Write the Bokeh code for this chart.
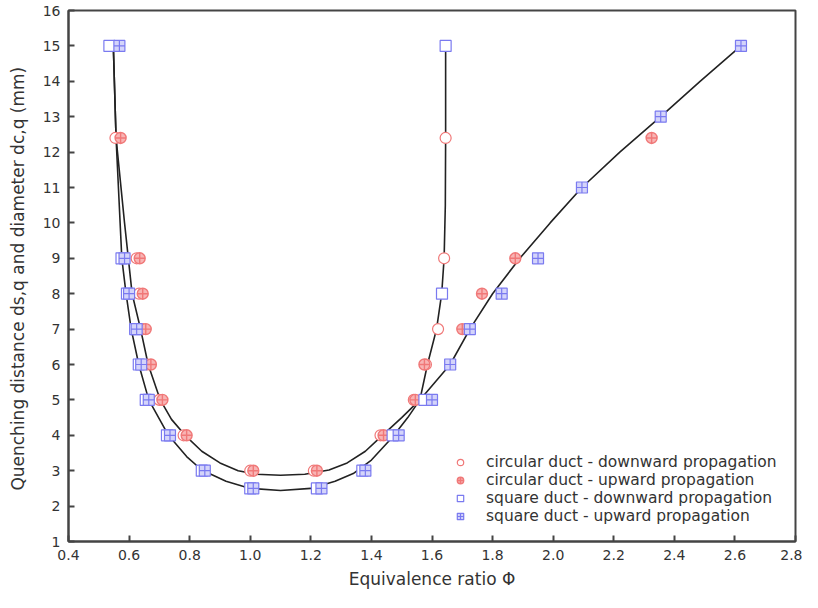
from bokeh.plotting import figure
from bokeh.models import FixedTicker, NumeralTickFormatter, Legend, LegendItem
from bokeh.embed import file_html
from bokeh.resources import INLINE

# ---------------- data ----------------
x_ticks = [0.4, 0.6, 0.8, 1.0, 1.2, 1.4, 1.6, 1.8, 2.0, 2.2, 2.4, 2.6, 2.8]
y_ticks = list(range(1, 17))

phi_circ_down = [0.555, 0.625, 0.633, 0.645, 0.66, 0.70, 0.78, 1.00, 1.21, 1.43, 1.54, 1.58, 1.62, 1.64, 1.645]
d_circ_down = [12.4, 9, 8, 7, 6, 5, 4, 3, 3, 4, 5, 6, 7, 9, 12.4]

phi_circ_up = [0.572, 0.635, 0.645, 0.655, 0.672, 0.71, 0.79, 1.01, 1.22, 1.44, 1.545, 1.575, 1.70, 1.765, 1.875, 2.325]
d_circ_up = [12.4, 9, 8, 7, 6, 5, 4, 3, 3, 4, 5, 6, 7, 8, 9, 12.4]

phi_sq_down = [0.535, 0.575, 0.593, 0.62, 0.632, 0.655, 0.725, 0.84, 1.00, 1.22, 1.37, 1.47, 1.575, 1.633, 1.645]
d_sq_down = [15, 9, 8, 7, 6, 5, 4, 3, 2.5, 2.5, 3, 4, 5, 8, 15]

phi_sq_up = [0.568, 0.585, 0.60, 0.625, 0.64, 0.665, 0.735, 0.85, 1.01, 1.235, 1.38, 1.49, 1.60, 1.66, 1.725, 1.83, 1.95, 2.095, 2.355, 2.62]
d_sq_up = [15, 9, 8, 7, 6, 5, 4, 3, 2.5, 2.5, 3, 4, 5, 6, 7, 8, 9, 11, 13, 15]

# fitted curves
curve1_phi = [0.548, 0.557, 0.585, 0.61, 0.638, 0.663, 0.703, 0.74, 0.785, 0.84, 0.90, 0.96, 1.02, 1.10,
              1.18, 1.26, 1.32, 1.38, 1.43, 1.50, 1.56, 1.61, 1.66, 1.725, 1.80, 1.89, 1.99, 2.095, 2.22, 2.355, 2.485, 2.62]
curve1_d = [15, 12.4, 10, 8, 7, 6, 5, 4.45, 4, 3.55, 3.22, 3.0, 2.9, 2.87,
            2.9, 3.02, 3.22, 3.55, 3.95, 4.5, 5.0, 5.5, 6.0, 7, 8, 9, 10, 11, 12, 13, 14, 15]

curve2_phi = [0.548, 0.557, 0.576, 0.59, 0.607, 0.632, 0.665, 0.73, 0.79, 0.84, 0.92, 1.00, 1.10, 1.20,
              1.28, 1.34, 1.40, 1.47, 1.52, 1.56, 1.585, 1.615, 1.632, 1.64, 1.644, 1.645, 1.645]
curve2_d = [15, 12.4, 9, 8, 7, 6, 5, 4, 3.4, 3.02, 2.7, 2.5, 2.44, 2.5,
            2.7, 2.92, 3.3, 3.95, 4.5, 5.0, 6.0, 7, 8, 9, 10.5, 12.4, 15]

legend_labels = ["circular duct - downward propagation", "circular duct - upward propagation",
                 "square duct - downward propagation", "square duct - upward propagation"]

# ---------------- figure ----------------
FONT = "DejaVu Sans"
TXT = "#333333"
X0, X1, Y0, Y1 = 0.4, 2.8, 1, 16

p = figure(width=802, height=592, x_range=(X0, X1), y_range=(Y0, Y1),
           output_backend="svg", toolbar_location=None,
           min_border_left=68, min_border_right=7, min_border_top=10, min_border_bottom=51)
p.xgrid.visible = False
p.ygrid.visible = False
p.outline_line_color = "#444444"
p.outline_line_width = 2
p.background_fill_color = "white"
p.border_fill_color = "white"

p.xaxis.ticker = FixedTicker(ticks=x_ticks)
p.yaxis.ticker = FixedTicker(ticks=y_ticks)
p.xaxis.formatter = NumeralTickFormatter(format="0.0")
p.yaxis.formatter = NumeralTickFormatter(format="0")
for ax in (p.xaxis, p.yaxis):
    ax.axis_line_color = "#444444"
    ax.axis_line_width = 2
    ax.major_tick_line_color = "#444444"
    ax.major_tick_line_width = 2
    ax.major_tick_in = 6
    ax.major_tick_out = 0
    ax.minor_tick_line_color = None
    ax.major_label_text_font = FONT
    ax.major_label_text_font_size = "14px"
    ax.major_label_text_color = TXT
    ax.major_label_standoff = 8
    ax.axis_label_text_font = FONT
    ax.axis_label_text_font_style = "normal"
    ax.axis_label_text_color = TXT

p.xaxis.axis_label = "Equivalence ratio Φ"
p.xaxis.axis_label_text_font_size = "17px"
p.xaxis.axis_label_standoff = 6

p.yaxis.axis_label = "Quenching distance ds,q and diameter dc,q  (mm)"
p.yaxis.axis_label_text_font_size = "17px"
p.yaxis.axis_label_standoff = 12

# curves
p.line(curve1_phi, curve1_d, line_color="#222222", line_width=1.6)
p.line(curve2_phi, curve2_d, line_color="#222222", line_width=1.6)

RED = "#f07878"
BLUE = "#7a7af0"
r1 = p.scatter(phi_circ_down, d_circ_down, marker="circle", size=11, line_color=RED, line_width=1.2,
               fill_color="white")
r2 = p.scatter(phi_circ_up, d_circ_up, marker="circle_cross", size=11, line_color=RED, line_width=1.4,
               fill_color="#f8b4b4")
r3 = p.scatter(phi_sq_down, d_sq_down, marker="square", size=11, line_color=BLUE, line_width=1.2,
               fill_color="white")
r4 = p.scatter(phi_sq_up, d_sq_up, marker="square_cross", size=11, line_color=BLUE, line_width=1.2,
               fill_color="#d4d4fa")

legend = Legend(items=[LegendItem(label=legend_labels[0], renderers=[r1]),
                       LegendItem(label=legend_labels[1], renderers=[r2]),
                       LegendItem(label=legend_labels[2], renderers=[r3]),
                       LegendItem(label=legend_labels[3], renderers=[r4])],
                location=(384, 16), padding=0, margin=0, spacing=0,
                border_line_color=None, background_fill_alpha=0,
                glyph_width=16, glyph_height=18, label_height=18, label_standoff=18,
                label_text_font=FONT, label_text_font_size="15.5px", label_text_color=TXT)
p.add_layout(legend, "center")

open("out.html", "w").write(file_html(p, INLINE))
